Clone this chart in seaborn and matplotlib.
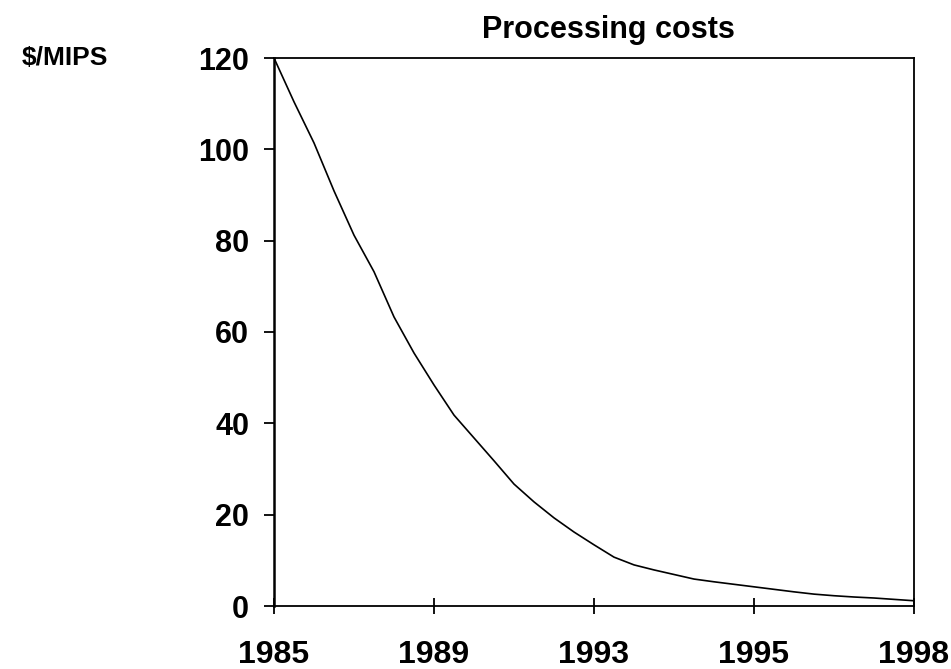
import matplotlib
matplotlib.use("Agg")
import matplotlib.pyplot as plt
import seaborn as sns
import pandas as pd

cost_per_mips = [120, 110.4, 101.4, 90.9, 81.2, 73.2, 63.3, 55.4, 48.4, 41.8,
                 36.8, 31.8, 26.7, 22.8, 19.3, 16.2, 13.4, 10.7, 9.0, 7.9,
                 6.9, 5.9, 5.3, 4.75, 4.2, 3.65, 3.1, 2.6, 2.25, 1.97,
                 1.75, 1.45, 1.15]
period_index = list(range(len(cost_per_mips)))
tick_positions = [0, 8, 16, 24, 32]
tick_labels = ["1985", "1989", "1993", "1995", "1998"]
y_ticks = [0, 20, 40, 60, 80, 100, 120]

df = pd.DataFrame({"period": period_index, "cost": cost_per_mips})

sns.set_style("white")
plt.rcParams["font.family"] = ["Liberation Sans", "DejaVu Sans"]
plt.rcParams["font.weight"] = "bold"
plt.rcParams["text.color"] = "black"
plt.rcParams["xtick.color"] = "black"
plt.rcParams["ytick.color"] = "black"

W, H = 951, 669
fig = plt.figure(figsize=(W / 100, H / 100), dpi=100)
ax = fig.add_axes([274 / W, 1 - 606 / H, (914 - 274) / W, (606 - 58) / H])

sns.lineplot(data=df, x="period", y="cost", ax=ax, color="black", linewidth=1.2)

ax.set_xlim(0, 32)
ax.set_ylim(0, 120)
ax.set_xticks(tick_positions)
ax.set_xticklabels(tick_labels)
ax.set_yticks(y_ticks)
ax.set_xlabel("")
ax.set_ylabel("")

for s in ax.spines.values():
    s.set_visible(True)
    s.set_color("black")
    s.set_linewidth(1.3)
ax.spines["left"].set_linewidth(1.8)

ax.tick_params(axis="y", direction="out", length=7, width=1.3, pad=11,
               labelsize=22, left=True, colors="black")
ax.tick_params(axis="x", direction="inout", length=11, width=1.3, pad=19,
               labelsize=23, bottom=True, colors="black")
for lab in ax.get_xticklabels() + ax.get_yticklabels():
    lab.set_fontweight("bold")

fig.text(608 / W, 1 - 30 / H, "Processing costs", ha="center", va="center",
         fontsize=22, fontweight="bold", color="black")
fig.text(22 / W, 1 - 58 / H, "$/MIPS", ha="left", va="center",
         fontsize=19, fontweight="bold", color="black")

fig.savefig("out.png", dpi=100)
